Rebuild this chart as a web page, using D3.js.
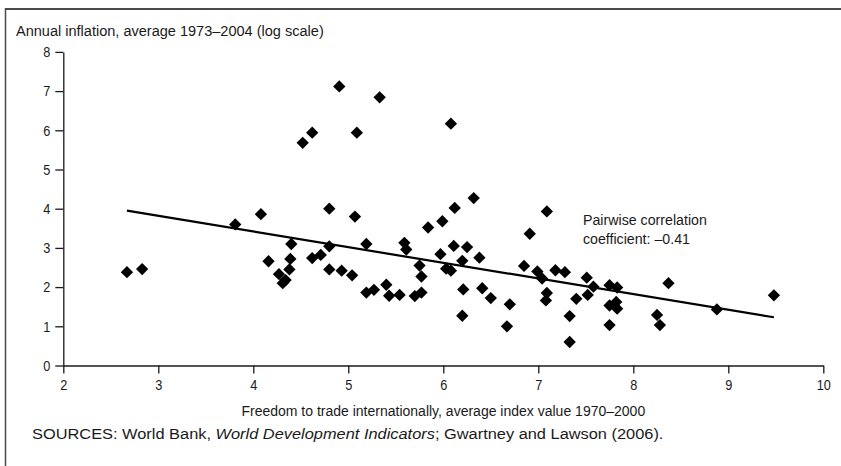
<!DOCTYPE html>
<html>
<head>
<meta charset="utf-8">
<script src="https://cdn.jsdelivr.net/npm/d3@7"></script>
<style>
  html, body { margin: 0; padding: 0; background: #fff; }
  svg { display: block; }
  text { font-family: "Liberation Sans", Arial, sans-serif; fill: #1a1a1a; }
</style>
</head>
<body>
<svg id="chart" width="841" height="466"></svg>
<script>
// Freedom to trade (x) vs. average inflation (y), one entry per country
const tradeFreedom = [
  2.67, 2.83, 3.81, 4.08, 4.16, 4.27, 4.31, 4.34, 4.38, 4.39,
  4.40, 4.52, 4.62, 4.62, 4.71, 4.80, 4.80, 4.80, 4.905, 4.93,
  5.04, 5.07, 5.09, 5.19, 5.19, 5.27, 5.33, 5.40, 5.43, 5.54,
  5.59, 5.61, 5.70, 5.75, 5.77, 5.77, 5.84, 5.97, 5.99, 6.03,
  6.08, 6.08, 6.11, 6.12, 6.20, 6.21, 6.20, 6.25, 6.32, 6.38,
  6.41, 6.50, 6.67, 6.70, 6.85, 6.91, 6.99, 7.04, 7.09, 7.09,
  7.08, 7.18, 7.28, 7.33, 7.33, 7.40, 7.51, 7.52, 7.58, 7.75,
  7.75, 7.75, 7.82, 7.83, 7.83, 8.25, 8.28, 8.37, 8.88, 9.48
];
const inflation = [
  2.38, 2.46, 3.60, 3.86, 2.66, 2.33, 2.10, 2.18, 2.45, 2.72,
  3.10, 5.68, 5.94, 2.74, 2.82, 4.00, 3.04, 2.45, 7.12, 2.42,
  2.30, 3.80, 5.94, 3.10, 1.86, 1.93, 6.84, 2.06, 1.78, 1.80,
  3.13, 2.96, 1.77, 2.55, 2.27, 1.86, 3.52, 2.84, 3.68, 2.47,
  2.42, 6.17, 3.05, 4.02, 2.67, 1.94, 1.27, 3.02, 4.27, 2.75,
  1.97, 1.72, 1.00, 1.56, 2.54, 3.36, 2.40, 2.22, 3.93, 1.85,
  1.66, 2.43, 2.38, 1.26, 0.60, 1.70, 2.24, 1.80, 2.01, 2.05,
  1.53, 1.03, 1.62, 1.99, 1.45, 1.29, 1.03, 2.10, 1.43, 1.79
];

// Fitted trend line end points (x, y)
const trendX = [2.67, 9.48];
const trendY = [3.95, 1.23];

const xTicks = [2, 3, 4, 5, 6, 7, 8, 9, 10];
const yTicks = [0, 1, 2, 3, 4, 5, 6, 7, 8];

const correlationLines = ["Pairwise correlation", "coefficient: \u20130.41"];

const TICK_FS = 15, TICK_SQ = 0.85;

const svg = d3.select("#chart");

// panel frame
svg.append("line").attr("x1", 5).attr("x2", 841).attr("y1", 9).attr("y2", 9)
  .attr("stroke", "#4a4a4a").attr("stroke-width", 2);
svg.append("line").attr("x1", 5.5).attr("x2", 5.5).attr("y1", 8).attr("y2", 466)
  .attr("stroke", "#4a4a4a").attr("stroke-width", 1.5);

const x = d3.scaleLinear().domain([2, 10]).range([63.3, 823.3]);
const y = d3.scaleLinear().domain([0, 8]).range([365.5, 51.9]);

const xAxis = svg.append("g")
  .attr("transform", `translate(0,${y(0)})`)
  .call(d3.axisBottom(x).tickValues(xTicks).tickFormat(d3.format("d")).tickSize(8).tickSizeOuter(0).tickPadding(6));
const yAxis = svg.append("g")
  .attr("transform", `translate(${x(2)},0)`)
  .call(d3.axisLeft(y).tickValues(yTicks).tickFormat(d3.format("d")).tickSize(8).tickSizeOuter(0).tickPadding(5));

[xAxis, yAxis].forEach(g => {
  g.select(".domain").attr("stroke", "#1a1a1a").attr("stroke-width", 1.3);
  g.selectAll(".tick line").attr("stroke", "#1a1a1a").attr("stroke-width", 1.3);
  g.selectAll(".tick text").attr("font-size", TICK_FS)
    .style("font-family", '"Liberation Sans", Arial, sans-serif')
    .attr("fill", "#1a1a1a");
});
xAxis.selectAll(".tick text").attr("transform", `scale(${TICK_SQ},1)`);
yAxis.selectAll(".tick text")
  .attr("x", -13 / TICK_SQ)
  .attr("transform", `scale(${TICK_SQ},1)`);

// regression line
svg.append("line")
  .attr("x1", x(trendX[0])).attr("y1", y(trendY[0]))
  .attr("x2", x(trendX[1])).attr("y2", y(trendY[1]))
  .attr("stroke", "#000").attr("stroke-width", 2.2);

// country markers (diamonds)
const diamond = d3.symbol().type(d3.symbolSquare).size(76);
svg.append("g").selectAll("path")
  .data(d3.range(tradeFreedom.length))
  .join("path")
  .attr("d", diamond)
  .attr("transform", i => `translate(${x(tradeFreedom[i])},${y(inflation[i])}) rotate(45)`)
  .attr("fill", "#000");

// text set in a condensed style: squeezed horizontally to a given run width
function label(px, py, fs, width, anchor, build) {
  const t = svg.append("text")
    .attr("font-size", fs)
    .attr("text-anchor", anchor);
  build(t);
  const natural = t.node().getComputedTextLength();
  t.attr("transform", `translate(${px},${py}) scale(${width / natural},1)`);
  return t;
}

label(16, 36, 15.5, 308, "start", t => t.text("Annual inflation, average 1973\u20132004 (log scale)"));

label((x(2) + x(10)) / 2, 416, 15.5, 404, "middle",
  t => t.text("Freedom to trade internationally, average index value 1970\u20132000"));

label(32, 439, 15.5, 632, "start", t => {
  t.append("tspan").text("SOURCES: World Bank, ");
  t.append("tspan").attr("font-style", "italic").text("World Development Indicators");
  t.append("tspan").text("; Gwartney and Lawson (2006).");
});

label(583, 225, 15.5, 124, "start", t => t.text(correlationLines[0]));
label(583, 244, 15.5, 107, "start", t => t.text(correlationLines[1]));
</script>
</body>
</html>
